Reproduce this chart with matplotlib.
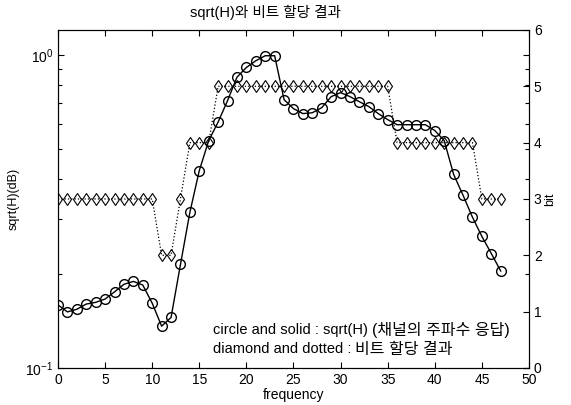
import numpy as np
import matplotlib
matplotlib.use("Agg")
from matplotlib import pyplot as plt
from matplotlib.ticker import LogLocator, NullFormatter, FixedLocator

plt.rcParams['font.family'] = ['Liberation Sans', 'Noto Sans CJK KR']

# channel response and bit allocation per frequency bin
freq = np.arange(48)
sqrt_h = [0.159, 0.151, 0.154, 0.160, 0.162, 0.166, 0.175, 0.185, 0.189, 0.184,
          0.161, 0.136, 0.145, 0.214, 0.314, 0.427, 0.532, 0.610, 0.714, 0.848,
          0.911, 0.957, 0.993, 0.993, 0.719, 0.673, 0.649, 0.653, 0.678, 0.735,
          0.757, 0.735, 0.708, 0.683, 0.649, 0.621, 0.598, 0.598, 0.598, 0.598,
          0.573, 0.532, 0.415, 0.356, 0.303, 0.263, 0.232, 0.204]
bits = [3, 3, 3, 3, 3, 3, 3, 3, 3, 3, 3, 2, 2, 3, 4, 4, 4,
        5, 5, 5, 5, 5, 5, 5, 5, 5, 5, 5, 5, 5, 5, 5, 5, 5, 5, 5,
        4, 4, 4, 4, 4, 4, 4, 4, 4, 3, 3, 3]

fig = plt.figure(figsize=(5.71, 4.05), dpi=100)
ax1 = fig.add_axes([0.1016, 0.0914, 0.8248, 0.8346])
ax2 = ax1.twinx()

ax1.semilogy(freq, sqrt_h, '-o', color='black', lw=1.0, ms=7,
             mfc='none', mew=1.0, zorder=3)
ax2.plot(freq, bits, ':d', color='black', lw=0.9, ms=6,
         mfc='none', mew=0.8)

ax1.set_xlim(0, 50)
ax1.set_ylim(0.1, 1.2)
ax2.set_ylim(0, 6)
ax1.set_xticks(np.arange(0, 51, 5))
ax1.yaxis.set_major_locator(FixedLocator([0.1, 1.0]))
ax1.yaxis.set_minor_locator(LogLocator(base=10, subs=np.arange(2, 10)))
ax1.yaxis.set_minor_formatter(NullFormatter())
ax2.set_yticks(range(7))

ax1.tick_params(which='both', direction='in', top=True, right=True,
                labelsize=10, length=4, width=0.8)
ax1.tick_params(which='minor', length=3)
ax2.tick_params(direction='in', labelsize=10, length=4, width=0.8)

fig.text(265 / 571, 1 - 12 / 405, 'sqrt(H)와 비트 할당 결과', fontsize=10.5,
         ha='center', va='center')
ax1.set_xlabel('frequency', fontsize=10, labelpad=1)
ax1.set_ylabel('sqrt(H)(dB)', fontsize=9, labelpad=4)
ax2.set_ylabel('bit', fontsize=9, labelpad=2)

# two-line note, Korean parts set a little larger
t1 = ax1.text(0.329, 0.112, 'circle and solid : sqrt(H) ',
              transform=ax1.transAxes, fontsize=10.5, va='center')
ax1.annotate('(채널의 주파수 응답)', xy=(1, 0.5), xycoords=t1,
             fontsize=11.5, va='center')
t2 = ax1.text(0.329, 0.056, 'diamond and dotted : ',
              transform=ax1.transAxes, fontsize=10.5, va='center')
ax1.annotate('비트 할당 결과', xy=(1, 0.5), xycoords=t2,
             fontsize=11.5, va='center')

fig.savefig('out.png', dpi=100)
